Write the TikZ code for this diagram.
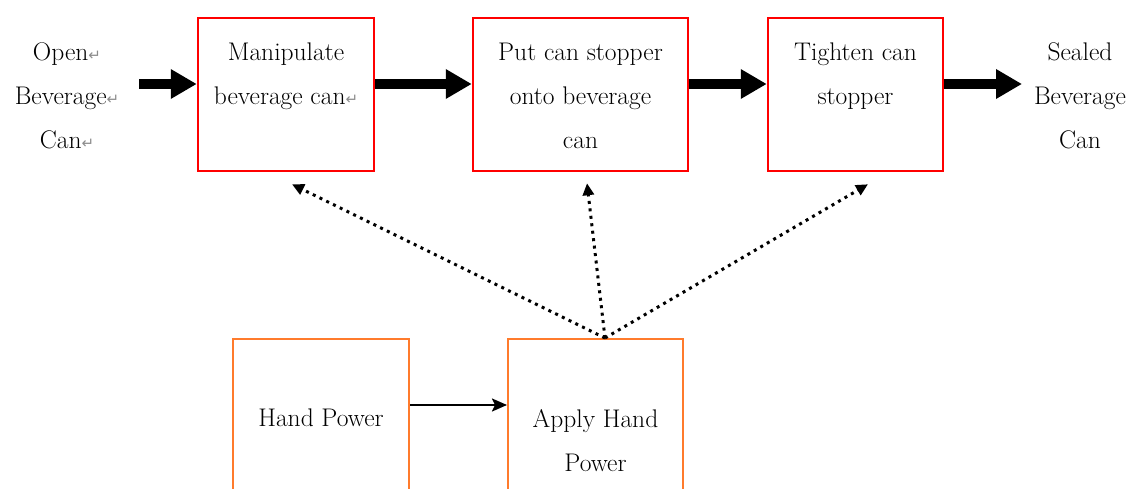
\documentclass[tikz,border=0pt]{standalone}
\usepackage{fontspec}
\newfontfamily\markfont{DejaVu Sans}
\usepackage{xcolor}
\usetikzlibrary{arrows.meta}
\definecolor{boxred}{HTML}{FF0000}
\definecolor{boxorange}{HTML}{FF7B2C}
\definecolor{markgray}{HTML}{8C8C8C}
\newcommand{\pmark}{{\markfont\fontsize{15}{15}\selectfont\color{markgray}↵}}

\tikzset{
    stepbox/.style = {draw = boxred, line width = 2.5pt, rectangle, minimum height = 153pt},
    powerbox/.style = {draw = boxorange, line width = 2pt, rectangle, minimum width = 176pt, minimum height = 200pt},
    boxtext/.style = {align = center, inner sep = 0pt, font = \fontsize{25.5}{44}\selectfont},
    bigarrow/.style = {-{Triangle[length = 26pt, width = 28pt]}, line width = 10pt},
    thinarrow/.style = {-{Stealth[length = 15pt, width = 13pt, inset = 3pt]}, line width = 2.2pt},
    dotarrow/.style = {-{Triangle[length = 12pt, width = 11pt]}, line width = 3pt, dash pattern = on 3pt off 4.5pt}
}

\begin{document}
\begin{tikzpicture}[x = 1pt, y = -1pt]
        \useasboundingbox (0, 0) rectangle (1136, 489);
        \clip (0, 0) rectangle (1136, 489);

        % Nodes
        \node [stepbox, minimum width = 176pt] (manip) at (286, 94.5) {};
        \node [stepbox, minimum width = 215pt] (stopper) at (580.5, 94.5) {};
        \node [stepbox, minimum width = 175pt] (tighten) at (855.5, 94.5) {};
        \node [powerbox] (hand) at (321, 439) {};
        \node [powerbox, minimum width = 175pt] (apply) at (595.5, 439) {};

        % Texts
        \node [boxtext, anchor = north] (opencan) at (67, 42) {Open\pmark\\Beverage\pmark\\Can\pmark};
        \node [boxtext, anchor = north] (sealedcan) at (1080, 42) {Sealed\\Beverage\\Can};
        \node [boxtext, anchor = north] (maniptext) at ([yshift = -26pt]manip.north) {Manipulate\\beverage can\pmark};
        \node [boxtext, anchor = north] (stoppertext) at ([yshift = -26pt]stopper.north) {Put can stopper\\onto beverage\\can};
        \node [boxtext, anchor = north] (tightentext) at ([yshift = -26pt]tighten.north) {Tighten can\\stopper};
        \node [boxtext, anchor = base] (handtext) at (321, 426) {Hand Power};
        \node [boxtext, anchor = north] (applytext) at (595.5, 409) {Apply Hand\\Power};

        \coordinate (start) at (139, 84);
        \coordinate (finish) at (1022, 84);
        \coordinate (source) at ([xshift = 9.5pt]apply.north);

        % Draw the links
        \draw [bigarrow] (start) -- (manip.west |- start);
        \draw [bigarrow] (manip.east |- start) -- (stopper.west |- start);
        \draw [bigarrow] (stopper.east |- start) -- (tighten.west |- start);
        \draw [bigarrow] (tighten.east |- start) -- (finish);

        \draw [thinarrow] ([yshift = 34pt]hand.east) -- ([yshift = 34pt]apply.west);

        \draw [dotarrow] (source) -- ([xshift = 6pt, yshift = -12pt]manip.south);
        \draw [dotarrow] (source) -- ([xshift = 6.5pt, yshift = -11pt]stopper.south);
        \draw [dotarrow] (source) -- ([xshift = 12.5pt, yshift = -12pt]tighten.south);

    \end{tikzpicture}
\end{document}
